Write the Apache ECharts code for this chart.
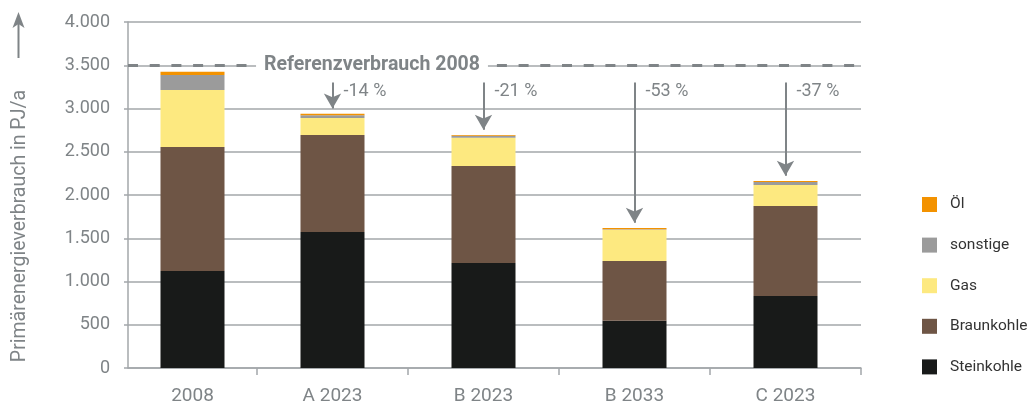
<!DOCTYPE html>
<html>
<head>
<meta charset="utf-8">
<script src="https://cdn.jsdelivr.net/npm/echarts@6/dist/echarts.min.js"></script>
<style>
html,body{margin:0;padding:0;background:#fff;}
#c{width:1030px;height:407px;}
</style>
</head>
<body>
<div id="c"></div>
<script>
// ---- data ----
var categories = ['2008', 'A 2023', 'B 2023', 'B 2033', 'C 2023'];
var steinkohle = [1121, 1572, 1214, 545, 832];
var braunkohle = [1434, 1122, 1121, 692, 1041];
var gas        = [659, 196, 327, 362, 243];
var sonstige   = [173, 31, 24, 5, 34];
var oel        = [39, 19, 8, 14, 12];
var referenz = 3500;
var changeLabels = ['-14 %', '-21 %', '-53 %', '-37 %'];

var GRAY = '#7f8487';
var LINE = '#a3a7aa';
var FONT = 'Roboto, "Noto Sans", sans-serif';

var totals = categories.map(function (c, i) {
  return steinkohle[i] + braunkohle[i] + gas[i] + sonstige[i] + oel[i];
});

// the base year sits in its own (narrower) band, the scenarios in equal bands
var baseCats = categories.slice(0, 1);
var scenCats = categories.slice(1);

var arrowStart = 3300, arrowGap = 60, labelLevel = 3200;
var arrowData = [], labelData = [];
for (var i = 1; i < categories.length; i++) {
  arrowData.push([
    { xAxis: categories[i], yAxis: arrowStart },
    { xAxis: categories[i], yAxis: totals[i] + arrowGap }
  ]);
  labelData.push({ coord: [categories[i], labelLevel], value: changeLabels[i - 1] });
}

function fmt(v) {
  return String(v).replace(/\B(?=(\d{3})+(?!\d))/g, '.');
}

var chart = echarts.init(document.getElementById('c'), null, { renderer: 'canvas' });

var layers = [
  ['Steinkohle', steinkohle, '#181a19'],
  ['Braunkohle', braunkohle, '#6e5545'],
  ['Gas', gas, '#fde980'],
  ['sonstige', sonstige, '#9b9b9b'],
  ['Öl', oel, '#f39200']
];

var series = [];
// base year bars (grid 0)
layers.forEach(function (l) {
  series.push({
    name: l[0], type: 'bar', stack: 'base', data: l[1].slice(0, 1),
    xAxisIndex: 0, yAxisIndex: 0, barWidth: 64,
    itemStyle: { color: l[2] }, emphasis: { disabled: true }
  });
});
// scenario bars (grid 1)
layers.forEach(function (l) {
  series.push({
    name: l[0], type: 'bar', stack: 'scen', data: l[1].slice(1),
    xAxisIndex: 1, yAxisIndex: 1, barWidth: 64,
    itemStyle: { color: l[2] }, emphasis: { disabled: true }
  });
});
var topSeries = series[series.length - 1];
topSeries.markLine = {
  silent: true, symbol: ['none', 'arrow'], symbolSize: [13, 15],
  lineStyle: { color: GRAY, width: 2, type: 'solid' },
  label: { show: false },
  data: arrowData
};
topSeries.markPoint = {
  silent: true, symbol: 'circle', symbolSize: 0,
  label: {
    show: true, position: 'right', distance: 11,
    color: GRAY, fontSize: 18, fontFamily: FONT,
    formatter: function (p) { return p.value; }
  },
  data: labelData
};
series.push({
  name: 'ref', type: 'line', xAxisIndex: 2, yAxisIndex: 2, data: [],
  markLine: {
    silent: true, symbol: ['none', 'none'],
    lineStyle: { color: GRAY, width: 3, type: [10, 11.7] },
    label: { show: false },
    data: [{ yAxis: referenz }]
  }
});

var catLabel = { color: GRAY, fontSize: 19, margin: 19, fontFamily: FONT };

chart.setOption({
  animation: false,
  backgroundColor: '#fff',
  textStyle: { fontFamily: FONT },
  grid: [
    { left: 128, right: 773, top: 22, bottom: 39 },
    { left: 257, right: 169, top: 22, bottom: 39 },
    { left: 128, right: 169, top: 22, bottom: 39 }
  ],
  legend: {
    orient: 'vertical', left: 922, top: 196.5, padding: 0,
    itemWidth: 15, itemHeight: 15, itemGap: 24.6,
    icon: 'rect', selectedMode: false,
    data: ['Öl', 'sonstige', 'Gas', 'Braunkohle', 'Steinkohle'],
    textStyle: { color: '#333', fontSize: 15.5, lineHeight: 15, fontFamily: FONT, padding: [0, 0, 0, 8] }
  },
  xAxis: [
    {
      type: 'category', gridIndex: 0, data: baseCats,
      axisLine: { show: false }, axisTick: { show: false },
      axisLabel: catLabel
    },
    {
      type: 'category', gridIndex: 1, data: scenCats,
      axisLine: { show: false },
      axisTick: { show: true, length: 7, lineStyle: { color: LINE, width: 1.5 } },
      axisLabel: catLabel
    },
    {
      type: 'value', gridIndex: 2, min: 0, max: 1,
      axisLine: { show: true, lineStyle: { color: LINE, width: 1.5 } },
      axisTick: { show: false }, axisLabel: { show: false }, splitLine: { show: false }
    }
  ],
  yAxis: [
    { type: 'value', gridIndex: 0, min: 0, max: 4000, show: false, splitLine: { show: false } },
    { type: 'value', gridIndex: 1, min: 0, max: 4000, show: false, splitLine: { show: false } },
    {
      type: 'value', gridIndex: 2, min: 0, max: 4000, interval: 500,
      axisLine: { show: true, lineStyle: { color: LINE, width: 1.5 } },
      axisTick: { show: true, length: 4, lineStyle: { color: LINE, width: 1.5 } },
      axisLabel: { color: GRAY, fontSize: 18, margin: 18, fontFamily: FONT,
        formatter: function (v) { return fmt(v); } },
      splitLine: { show: true, lineStyle: { color: LINE, width: 1.5 } }
    }
  ],
  series: series
});

var refY = chart.convertToPixel({ yAxisIndex: 2 }, referenz);
chart.setOption({
  graphic: [
    {
      type: 'text', z: 100, x: 372, y: refY,
      style: {
        text: 'Referenzverbrauch 2008',
        fill: GRAY, font: 'bold 19.5px ' + FONT,
        align: 'center', verticalAlign: 'middle',
        backgroundColor: '#fff', padding: [2, 8, 2, 8]
      }
    },
    {
      type: 'text', z: 100, x: 20, y: 226, rotation: Math.PI / 2,
      style: {
        text: 'Primärenergieverbrauch in PJ/a', fill: GRAY,
        font: '19.5px ' + FONT, align: 'center', verticalAlign: 'middle'
      }
    },
    {
      type: 'line', z: 100,
      shape: { x1: 18.5, y1: 58, x2: 18.5, y2: 24 },
      style: { stroke: GRAY, lineWidth: 2 }
    },
    {
      type: 'polygon', z: 100,
      shape: { points: [[12.5, 28], [18.5, 12], [24.5, 28], [18.5, 24]] },
      style: { fill: GRAY }
    }
  ]
});
</script>
</body>
</html>
